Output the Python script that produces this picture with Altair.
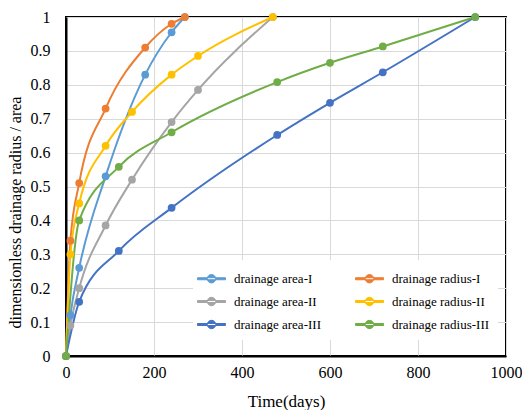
import altair as alt
import pandas as pd

series_names = ["drainage area-I", "drainage area-II", "drainage area-III",
                "drainage radius-I", "drainage radius-II", "drainage radius-III"]
series_colors = ["#5B9BD5", "#A5A5A5", "#4472C4", "#ED7D31", "#FFC000", "#70AD47"]

days_I = [0, 10, 30, 90, 180, 240, 270]
area_I = [0, 0.12, 0.26, 0.53, 0.83, 0.955, 1.0]
radius_I = [0, 0.34, 0.51, 0.73, 0.91, 0.98, 1.0]

days_II = [0, 10, 30, 90, 150, 240, 300, 470]
area_II = [0, 0.09, 0.20, 0.385, 0.52, 0.69, 0.785, 1.0]
radius_II = [0, 0.30, 0.45, 0.62, 0.72, 0.83, 0.885, 1.0]

days_III = [0, 30, 120, 240, 480, 600, 720, 930]
area_III = [0, 0.16, 0.31, 0.437, 0.652, 0.747, 0.837, 1.0]
radius_III = [0, 0.40, 0.558, 0.66, 0.808, 0.865, 0.913, 1.0]

x_ticks = [0, 200, 400, 600, 800, 1000]
y_ticks = [0, 0.1, 0.2, 0.3, 0.4, 0.5, 0.6, 0.7, 0.8, 0.9, 1.0]

rows = []
for name, days, vals in [
    ("drainage area-I", days_I, area_I),
    ("drainage radius-I", days_I, radius_I),
    ("drainage area-II", days_II, area_II),
    ("drainage radius-II", days_II, radius_II),
    ("drainage area-III", days_III, area_III),
    ("drainage radius-III", days_III, radius_III),
]:
    for i, (d, v) in enumerate(zip(days, vals)):
        rows.append({"series": name, "day": d, "value": v, "idx": i})
df = pd.DataFrame(rows)

FONT = "Liberation Serif"

x_enc = alt.X("day:Q", scale=alt.Scale(domain=[0, 1000], nice=False),
              axis=alt.Axis(values=x_ticks, format="d", title="Time(days)", grid=True,
                            ticks=False, labelPadding=8, titlePadding=13,
                            titleFontSize=17,
                            labelOverlap=False, labelFlush=False))
y_enc = alt.Y("value:Q", scale=alt.Scale(domain=[0, 1], nice=False),
              axis=alt.Axis(values=y_ticks, format="~g",
                            title="dimensionless drainage radius / area",
                            ticks=False, labelPadding=16, titleFontSize=16,
                            titleX=-51, titleY=195, titleAngle=270,
                            titleAlign="center", titleBaseline="middle",
                            labelOverlap=False, labelFlush=False))

legend_symbol = ("M-1.4,-0.1H1.4V0.1H-1.4Z "
                 "M-0.42,0A0.42,0.42 0 1,0 0.42,0A0.42,0.42 0 1,0 -0.42,0Z")

color_enc = alt.Color(
    "series:N",
    scale=alt.Scale(domain=series_names, range=series_colors),
    sort=series_names,
    legend=alt.Legend(title=None, orient="none", legendX=127, legendY=243,
                      columns=2, columnPadding=32, rowPadding=5,
                      symbolType=legend_symbol, symbolSize=400,
                      symbolStrokeWidth=1, symbolOpacity=1, labelOffset=12,
                      labelFont=FONT, labelFontSize=13, labelColor="black",
                      fillColor="white", padding=8),
)

base = alt.Chart(df).encode(x=x_enc, y=y_enc, color=color_enc)

lines = base.mark_line(strokeWidth=2, interpolate="monotone").encode(order="idx:Q")
points = base.mark_point(filled=True, size=60, opacity=1)

chart = alt.layer(lines, points).properties(
    width=440, height=339,
    autosize=alt.AutoSizeParams(type="none"),
    padding={"left": 66, "top": 17, "right": 16, "bottom": 54},
).configure_view(
    stroke="black", strokeWidth=2
).configure_axis(
    labelFont=FONT, titleFont=FONT, labelFontSize=16,
    labelColor="black", titleColor="black", titleFontWeight="normal",
    gridColor="#D9D9D9", gridWidth=1, domainColor="black", domainWidth=2,
)

chart.save("out.html", embed_options={"renderer": "svg", "actions": False})
